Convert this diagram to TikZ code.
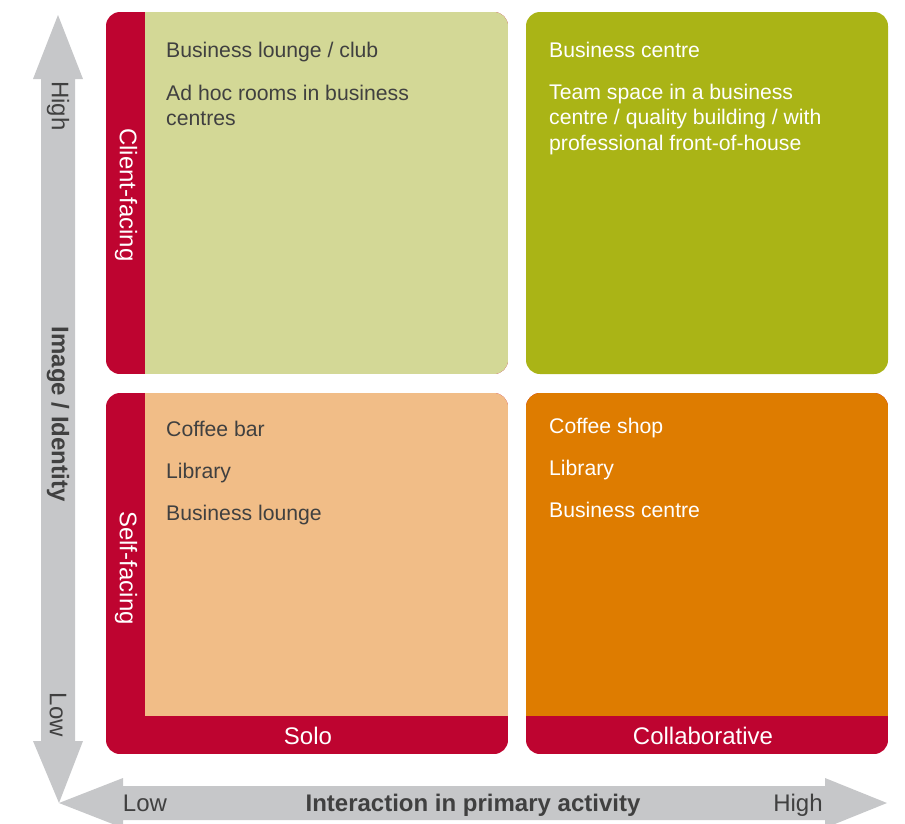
\documentclass[tikz,border=0pt]{standalone}
\usepackage{fontspec}
\setmainfont{Liberation Sans}
\definecolor{quadred}{HTML}{BE0430}
\definecolor{quadlime}{HTML}{D3D896}
\definecolor{quadolive}{HTML}{AAB416}
\definecolor{quadpeach}{HTML}{F1BD87}
\definecolor{quadorange}{HTML}{DE7C00}
\definecolor{axisgray}{HTML}{C6C7C9}
\definecolor{txtgray}{HTML}{404040}
\begin{document}
\begin{tikzpicture}[x=1pt,y=-1pt,
 item/.style={anchor=base west,inner sep=0pt,align=left,font=\fontsize{21.2}{25.5}\selectfont},
 darkitem/.style={item,text=txtgray},
 lightitem/.style={item,text=white},
 band/.style={inner sep=0pt,text=white,font=\fontsize{24}{28}\selectfont},
 axislbl/.style={inner sep=0pt,text=txtgray,font=\fontsize{24}{28}\selectfont},
 axistitle/.style={axislbl,font=\fontsize{24}{28}\selectfont\bfseries}]
\useasboundingbox (0,0) rectangle (905,823);
% axes
\fill[axisgray](58,15)--(83,79)--(75,79)--(75,741)--(83,741)--(59,803)--(33,741)--(41,741)--(41,79)--(33,79)--cycle;
\fill[axisgray](59,803)--(123,778)--(123,786)--(825,786)--(825,778)--(887,803)--(825,828)--(825,820)--(123,820)--(123,828)--cycle;
% quadrants
\begin{scope}
 \clip[rounded corners=14](106,12) rectangle (508,374);
 \fill[quadred](106,12) rectangle (508,374);
 \fill[quadlime](145,12) rectangle (508,374);
\end{scope}
\fill[quadolive,rounded corners=14](526,12) rectangle (888,374);
\begin{scope}
 \clip[rounded corners=14](106,393) rectangle (508,754);
 \fill[quadred](106,393) rectangle (508,754);
 \fill[quadpeach](145,393) rectangle (508,716);
\end{scope}
\begin{scope}
 \clip[rounded corners=14](526,393) rectangle (888,754);
 \fill[quadred](526,393) rectangle (888,754);
 \fill[quadorange](526,393) rectangle (888,716);
\end{scope}
% quadrant texts (base = last line)
\node[darkitem] (lounge) at (166,57) {Business lounge / club};
\node[darkitem] (adhoc) at (166,125.5) {Ad hoc rooms in business\\centres};
\node[lightitem] (bcentre) at (549,57) {Business centre};
\node[lightitem] (team) at (549,150) {Team space in a business\\centre / quality building / with\\professional front-of-house};
\node[darkitem] (coffeebar) at (166,436) {Coffee bar};
\node[darkitem] (library) at (166,478) {Library};
\node[darkitem] (blounge) at (166,520) {Business lounge};
\node[lightitem] (coffeeshop) at (549,433) {Coffee shop};
\node[lightitem] (libraryb) at (549,475) {Library};
\node[lightitem] (bcentreb) at (549,517) {Business centre};
% bands
\node[band,rotate=-90] (client) at (126,195) {Client-facing};
\node[band,rotate=-90] (self) at (126,568) {Self-facing};
\node[band,anchor=base] (solo) at (308,744) {Solo};
\node[band,anchor=base] (collab) at (703,744) {Collaborative};
% axis labels
\node[axislbl,rotate=-90] (vhigh) at (58,106) {High};
\node[axislbl,rotate=-90] (vlow) at (58,715) {Low};
\node[axistitle,rotate=-90] (vtitle) at (58,414) {Image / Identity};
\node[axislbl,anchor=base] (hlow) at (145,811) {Low};
\node[axistitle,anchor=base] (htitle) at (473,811) {Interaction in primary activity};
\node[axislbl,anchor=base] (hhigh) at (798,811) {High};
\end{tikzpicture}
\end{document}
